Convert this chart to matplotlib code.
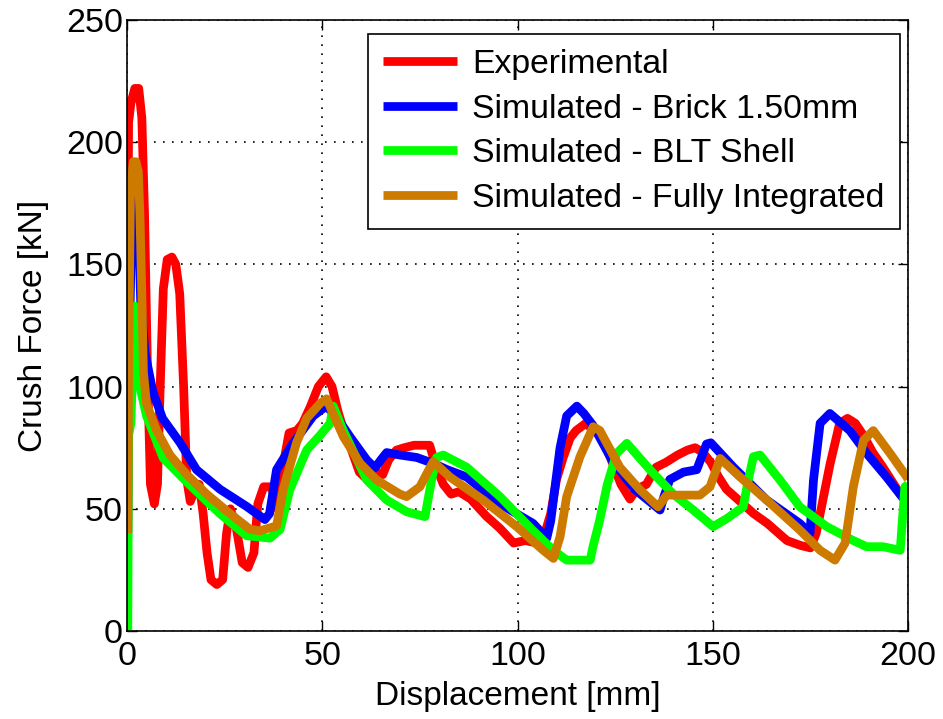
import numpy as np
import matplotlib
matplotlib.use('Agg')
import matplotlib.pyplot as plt

plt.rcParams['font.family'] = ['Liberation Sans', 'DejaVu Sans']

# Experimental
exp_x = [0.1, 0.4, 1.0, 2.0, 3.0, 3.8, 4.5, 5.2, 6.0, 7.0, 7.8, 8.5, 9.3, 10.3, 11.5, 12.5,
         13.5, 14.5, 15.3, 16.2, 17.5, 18.5, 19.5, 20.5, 21.5, 23.0, 24.5, 25.5, 26.5, 28.0,
         29.5, 31.0, 32.5, 33.5, 35.0, 37.0, 38.5, 40.0, 41.5, 43.5, 45.0, 47.0, 49.0, 51.0,
         52.5, 54.0, 55.5, 57.5, 59.5, 61.5, 63.5, 65.5, 67.0, 69.0, 71.0, 73.5, 76.0, 77.5,
         79.0, 81.0, 83.0, 85.0, 88.0, 92.0, 95.5, 99.0, 102.0, 105.0, 107.0, 108.5, 110.0,
         111.7, 113.5, 115.0, 117.5, 119.5, 121.5, 124.0, 126.5, 128.8, 130.5, 133.0, 135.5,
         138.0, 141.0, 143.5, 145.5, 147.5, 149.5, 151.5, 153.5, 157.0, 160.5, 164.0, 169.0,
         172.5, 175.0, 176.5, 177.5, 180.0, 182.5, 184.5, 186.5, 188.6, 191.0, 193.6, 196.0,
         198.0, 200.0]
exp_y = [100, 208, 216, 222, 222, 210, 170, 110, 60, 52, 60, 100, 140, 152, 153, 150,
         138, 100, 62, 53, 58, 60, 48, 32, 21, 19, 21, 40, 50, 42,
         28, 26, 32, 52, 59, 59, 50, 68, 81, 82, 85, 92, 100, 104,
         100, 90, 82, 74, 65, 62, 65, 64, 70, 74, 75, 76, 76, 76,
         68, 60, 56, 57, 54, 47, 42, 36, 37, 36, 40, 48, 62,
         71, 79, 82, 85, 82, 80, 70, 60, 54, 58, 60, 67,
         69, 72, 74, 75, 73, 69, 63, 58, 53, 48, 44, 37,
         35, 34, 40, 48, 68, 85, 87, 85, 80, 73, 67, 61,
         56, 53]

# Simulated - Brick 1.50mm
brick_x = [0.2, 0.5, 1.2, 2.0, 2.8, 3.5, 4.6, 6.6, 9.1, 13.6, 17.8, 23.8, 30.6, 35.3, 36.5,
           38.3, 42.6, 47.7, 51.0, 53.5, 57.1, 61.4, 63.5, 65.0, 66.5, 69.9, 74.2, 78.4,
           82.0, 87.0, 95.5, 104.0, 107.5, 108.5, 110.9, 112.6, 115.2, 117.0, 119.4, 124.5,
           130.0, 136.5, 137.5, 139.0, 142.5, 145.9, 148.4, 149.5, 155.3, 163.8, 172.3,
           174.9, 175.8, 177.5, 180.0, 185.1, 189.4, 194.5, 198.4, 200]
brick_y = [40, 110, 165, 185, 175, 135, 114, 98, 87, 77, 66, 58, 51, 45.6, 48,
           66, 77, 88, 92, 88, 79.5, 70, 66.7, 70, 73, 72, 71, 68.6,
           66, 63, 52, 44, 38, 45, 75, 88, 92, 89, 84, 69,
           58, 49.5, 55, 62, 65, 66, 76.5, 77, 67, 53.6, 44,
           40, 61.8, 85, 89, 82, 72.7, 63, 55, 52]

# Simulated - BLT Shell
blt_x = [0.2, 0.4, 1.0, 1.5, 2.0, 2.5, 3.3, 5.0, 9.3, 15.3, 23.8, 30.6, 36.6, 39.2, 41.7,
         46.0, 49.4, 52.0, 52.8, 55.4, 61.4, 66.5, 71.6, 76.3, 78.0, 79.3, 81.0, 87.0, 95.5,
         104.0, 109.2, 112.6, 118.6, 119.4, 121.0, 123.0, 125.4, 128.0, 133.9, 139.9, 145.0,
         150.1, 153.6, 157.8, 159.1, 160.4, 162.1, 167.2, 172.3, 179.2, 186.0, 189.4, 193.6,
         198.0, 199.2, 200]
blt_y = [0, 80, 85, 110, 133, 117.5, 100, 88, 70.7, 61, 48, 39, 38, 41.6, 57.8,
         74, 80, 85, 92, 82, 61.8, 53.6, 48.8, 46.8, 61.8, 71, 72, 67, 55,
         41, 33, 29, 29, 35, 45, 60, 72.7, 76.8, 66, 56, 49.5,
         42.7, 46, 50.8, 61.8, 71.3, 72, 61.8, 50.8, 42.7, 37, 34.5, 34.5,
         33, 59, 60]

# Simulated - Fully Integrated
full_x = [0.2, 0.4, 0.9, 1.6, 2.3, 2.9, 3.3, 3.8, 4.2, 5.0, 7.6, 11.0, 15.3, 20.4, 26.4, 31.5,
          34.0, 38.3, 40.0, 43.4, 46.0, 49.4, 51.1, 55.4, 59.7, 63.9, 69.9, 71.6, 75.0, 78.4,
          82.7, 91.2, 99.8, 106.6, 109.2, 110.9, 112.6, 116.0, 119.4, 121.1, 126.2, 131.4,
          136.0, 138.2, 146.7, 149.3, 151.9, 157.0, 163.8, 172.3, 177.5, 181.3, 183.9, 186.0,
          188.6, 191.1, 195.4, 199.7, 200]
full_y = [40, 110, 180, 192, 192, 188, 171, 138, 106, 93, 82, 72, 64, 56, 48, 41.6,
          41, 43, 58, 77, 87, 93, 95, 79.5, 68.6, 61.8, 56, 55, 59, 69.3,
          63, 53.6, 42.7, 33, 29.7, 38.6, 55, 71.3, 83.6, 82, 67, 57.7,
          50.8, 55.6, 55.6, 59, 70.6, 63, 53.6, 41.3, 33, 29, 36, 59,
          78, 82, 72.7, 63, 62]

labels = ['Experimental', 'Simulated - Brick 1.50mm', 'Simulated - BLT Shell',
          'Simulated - Fully Integrated']
colors = ['#ff0000', '#0000ff', '#00ff00', '#cc7a00']

fig = plt.figure(figsize=(9.43, 7.19), dpi=100)
ax = fig.add_axes([127 / 943, 88 / 719, 781 / 943, 611 / 719])

series = [(exp_x, exp_y), (brick_x, brick_y), (blt_x, blt_y), (full_x, full_y)]
for (xs, ys), lab, c in zip(series, labels, colors):
    ax.plot(xs, ys, color=c, lw=6.3, label=lab, solid_capstyle='butt')

ax.set_xlim(0, 200)
ax.set_ylim(0, 250)
ax.set_xticks([0, 50, 100, 150, 200])
ax.set_yticks([0, 50, 100, 150, 200, 250])
ax.grid(True, color='black', linestyle=(0, (1, 4.4)), linewidth=1.2)
ax.tick_params(direction='in', top=True, right=True, length=7, width=1,
               labelsize=24.5)
ax.tick_params(axis='y', pad=3)
ax.tick_params(axis='x', pad=7)
for s in ax.spines.values():
    s.set_linewidth(1.2)

ax.set_xlabel('Displacement [mm]', fontsize=24, labelpad=7)
ax.set_ylabel('Crush Force [kN]', fontsize=24, labelpad=12)

leg = ax.legend(loc='upper right', bbox_to_anchor=((900 - 127) / 781, (631 - 34) / 611),
                borderaxespad=0, fontsize=24.3, fancybox=False, edgecolor='black',
                framealpha=1, handlelength=2.2, handletextpad=0.45, labelspacing=0.4,
                borderpad=0.45)
leg.get_frame().set_linewidth(1.2)

fig.savefig('out.png', dpi=100)
